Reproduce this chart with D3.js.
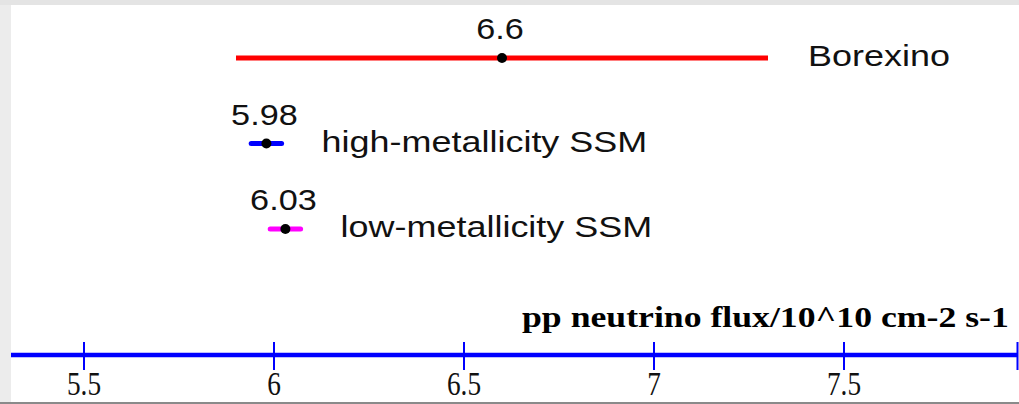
<!DOCTYPE html>
<meta charset="utf-8">
<title>pp neutrino flux</title>
<style>
body {
  margin: 0;
  background: #fff;
}
.val, .name {
  font-family: "Liberation Sans", Arial, sans-serif;
  font-size: 29px;
  fill: #111;
}
.axis-title {
  font-family: "Liberation Serif", "Times New Roman", serif;
  font-weight: bold;
  font-size: 30px;
  fill: #000;
}
.tick-label {
  font-family: "Liberation Serif", "Times New Roman", serif;
  font-size: 26px;
  fill: #111;
}
</style>
<body>
<script src="https://cdnjs.cloudflare.com/ajax/libs/d3/7.8.5/d3.min.js"></script>
<script>
var names = ["Borexino", "high-metallicity SSM", "low-metallicity SSM"],
    values = [6.6, 5.98, 6.03],
    errors = [0.7, 0.04, 0.04],
    colors = ["#ff0000", "#0000ff", "#ff00ff"],
    tickValues = [5.5, 6, 6.5, 7, 7.5];

var w = 1019,
    h = 404;

var svg = d3.select("body").append("svg")
    .attr("width", w)
    .attr("height", h);

// screenshot frame
svg.append("rect").attr("x", 0).attr("y", 0).attr("width", 11).attr("height", h).style("fill", "#ececec");
svg.append("rect").attr("x", 0).attr("y", 0).attr("width", w).attr("height", 5).style("fill", "#e4e4e4");
svg.append("rect").attr("x", 0).attr("y", 402).attr("width", w).attr("height", 2).style("fill", "#8a8a8a");

var x = d3.scaleLinear()
    .domain([5.5, 7.5])
    .range([84, 844]);

var y = d3.scalePoint()
    .domain(names)
    .range([58, 229]);

var axisY = 355;

// axis
svg.append("line")
    .attr("x1", 11).attr("x2", w - 1)
    .attr("y1", axisY).attr("y2", axisY)
    .style("stroke", "#0000ff")
    .style("stroke-width", 4.5);

var tick = svg.selectAll(".tick")
    .data(tickValues)
  .enter().append("g")
    .attr("class", "tick")
    .attr("transform", function(d) { return "translate(" + x(d) + "," + axisY + ")"; });

tick.append("line")
    .attr("y1", -13).attr("y2", 15)
    .style("stroke", "#0000ff")
    .style("stroke-width", 2);

tick.append("text")
    .attr("class", "tick-label")
    .attr("text-anchor", "middle")
    .attr("transform", "translate(0,40) scale(1.05,1.3)")
    .text(function(d) { return d; });

// right end cap of the axis
svg.append("line")
    .attr("x1", w - 1.5).attr("x2", w - 1.5)
    .attr("y1", axisY - 13).attr("y2", axisY + 15)
    .style("stroke", "#0000ff")
    .style("stroke-width", 2);

svg.append("text")
    .attr("class", "axis-title")
    .attr("transform", "translate(522,327) scale(1.19,1)")
    .text("pp neutrino flux/10^10 cm-2 s-1");

// error bars
var row = svg.selectAll(".row")
    .data(names)
  .enter().append("g")
    .attr("class", "row");

row.append("line")
    .attr("x1", function(d, i) { return x(values[i] - errors[i]); })
    .attr("x2", function(d, i) { return x(values[i] + errors[i]); })
    .attr("y1", function(d) { return y(d); })
    .attr("y2", function(d) { return y(d); })
    .style("stroke", function(d, i) { return colors[i]; })
    .style("stroke-width", 5)
    .style("stroke-linecap", function(d, i) { return i ? "round" : "butt"; });

row.append("circle")
    .attr("cx", function(d, i) { return x(values[i]); })
    .attr("cy", function(d) { return y(d); })
    .attr("r", 5)
    .style("fill", "#000");

row.append("text")
    .attr("class", "val")
    .attr("text-anchor", "middle")
    .attr("transform", function(d, i) {
      return "translate(" + (x(values[i]) - 2) + "," + (y(d) - 19) + ") scale(1.18,1)";
    })
    .text(function(d, i) { return values[i]; });

row.append("text")
    .attr("class", "name")
    .attr("transform", function(d, i) {
      return "translate(" + (x(values[i] + errors[i]) + 40) + "," + (y(d) + 8) + ") scale(1.24,1)";
    })
    .text(function(d) { return d; });
</script>
